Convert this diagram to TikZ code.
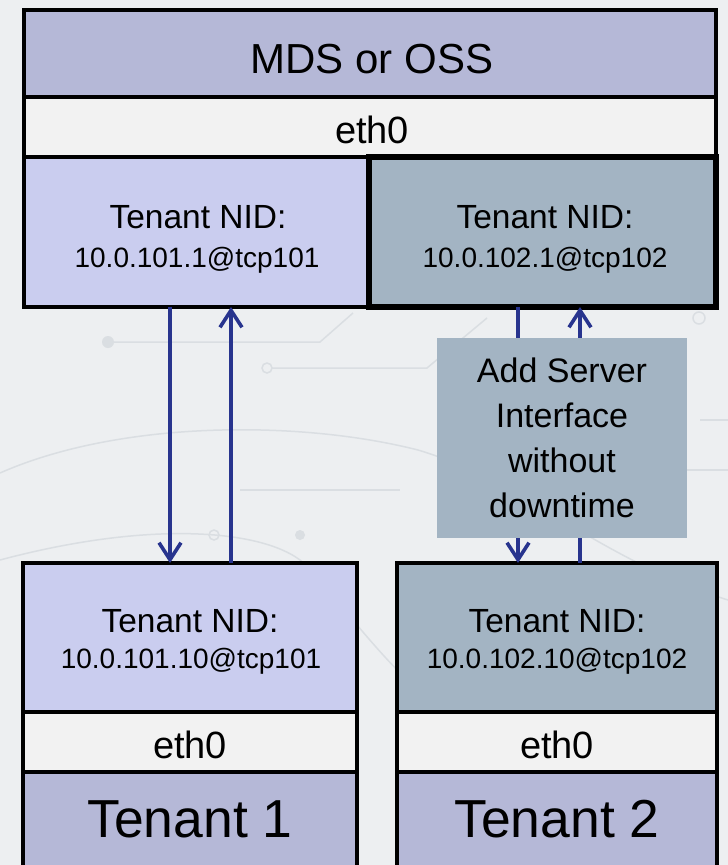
\documentclass[tikz,border=0pt]{standalone}
\usepackage{fontspec}
\setmainfont{Liberation Sans}
\usetikzlibrary{arrows.meta}

\definecolor{pagebg}{HTML}{EDEFF1}
\definecolor{trace}{HTML}{DADEE2}
\definecolor{hostfill}{HTML}{B5B8D7}
\definecolor{nicfill}{HTML}{F2F2F2}
\definecolor{nidone}{HTML}{CACDEF}
\definecolor{nidtwo}{HTML}{A3B4C3}
\definecolor{flowblue}{HTML}{28348E}

\newcommand{\fs}[1]{\fontsize{#1pt}{#1pt}\selectfont}
\newcommand{\fsl}[2]{\fontsize{#1pt}{#2pt}\selectfont}

\begin{document}
\begin{tikzpicture}[x=1pt,y=-1pt,
  cell/.style={draw=black, line width=3.5pt, inner sep=0pt, outer sep=0pt},
  txt/.style={inner sep=0pt, anchor=base},
  flow/.style={draw=flowblue, line width=3.6pt,
    -{Straight Barb[length=17pt,width=22pt]}},
  note/.style={fill=nidtwo, inner sep=0pt, align=center,
    minimum width=250pt, minimum height=200pt,
    font=\fsl{34}{45}}
]
% page and its faint circuit-board backdrop
\useasboundingbox (0,0) rectangle (728,865);
\clip (0,0) rectangle (728,865);
\fill[pagebg] (0,0) rectangle (728,865);
\begin{scope}[draw=trace, line width=1.5pt]
  \draw (108,342) -- (320,342) -- (353,313);
  \fill[trace] (108,342) circle (6pt);
  \draw (272,368) -- (427,368) -- (487,318);
  \draw (267,368) circle (5pt);
  \draw (699,318) circle (6pt);
  \draw (0,473) .. controls (120,420) and (300,420) .. (418,450)
        .. controls (520,480) and (600,560) .. (728,600);
  \draw (0,560) .. controls (150,520) and (260,530) .. (300,560)
        .. controls (340,600) and (380,660) .. (430,700);
  \draw (240,490) -- (400,490);
  \draw (214,535) circle (5pt);
  \fill[trace] (300,535) circle (5pt);
  \draw (580,470) -- (728,470);
  \draw (700,420) -- (728,420);
\end{scope}

% file server: host, interface and its two tenant NIDs
\node[cell, fill=hostfill, minimum width=692pt, minimum height=87pt] (mds) at (370,53.5) {};
\node[cell, fill=nicfill, minimum width=692pt, minimum height=60pt] (eth) at (370,127) {};
\node[cell, fill=nidone, minimum width=345pt, minimum height=150pt] (nidL) at (196.5,232) {};
\node[cell, fill=nidtwo, line width=6pt, minimum width=347pt, minimum height=150pt] (nidR) at (542.5,232) {};

\node[txt, font=\fs{42}] (mdslbl) at (372,73) {MDS or OSS};
\node[txt, font=\fs{38}] (ethlbl) at (372,143) {eth0};
\node[txt, font=\fs{33.5}] (nidLa) at (198,228) {Tenant NID:};
\node[txt, font=\fs{28}] (nidLb) at (197,267) {10.0.101.1@tcp101};
\node[txt, font=\fs{33.5}] (nidRa) at (545,228) {Tenant NID:};
\node[txt, font=\fs{28}] (nidRb) at (545,267) {10.0.102.1@tcp102};

% tenant clients
\node[cell, fill=nidone, minimum width=334pt, minimum height=149pt] (nidBL) at (190,637.5) {};
\node[cell, fill=nicfill, minimum width=334pt, minimum height=60pt] (ethBL) at (190,742) {};
\node[cell, fill=hostfill, minimum width=334pt, minimum height=110pt] (tenL) at (190,827) {};

\node[cell, fill=nidtwo, minimum width=320pt, minimum height=149pt] (nidBR) at (557,637.5) {};
\node[cell, fill=nicfill, minimum width=320pt, minimum height=60pt] (ethBR) at (557,742) {};
\node[cell, fill=hostfill, minimum width=320pt, minimum height=110pt] (tenR) at (557,827) {};

\node[txt, font=\fs{33.5}] (nidBLa) at (190,632) {Tenant NID:};
\node[txt, font=\fs{28}] (nidBLb) at (191,668) {10.0.101.10@tcp101};
\node[txt, font=\fs{38}] (ethBLl) at (190,758) {eth0};
\node[txt, font=\fs{53.5}] (tenLl) at (190,837) {Tenant 1};

\node[txt, font=\fs{33.5}] (nidBRa) at (557,632) {Tenant NID:};
\node[txt, font=\fs{28}] (nidBRb) at (557,668) {10.0.102.10@tcp102};
\node[txt, font=\fs{38}] (ethBRl) at (557,758) {eth0};
\node[txt, font=\fs{53.5}] (tenRl) at (557,837) {Tenant 2};

% traffic between server NIDs and tenant NIDs
\coordinate (xa) at (170,0);
\coordinate (xb) at (231,0);
\coordinate (xc) at (518,0);
\coordinate (xd) at (580,0);
\draw[flow] (nidL.south -| xa) -- (nidBL.north -| xa);
\draw[flow] (nidBL.north -| xb) -- (nidL.south -| xb);
\draw[flow] (nidR.south -| xc) -- (nidBR.north -| xc);
\draw[flow] (nidBR.north -| xd) -- (nidR.south -| xd);

\node[note] (addnote) at (562,438) {Add Server\\Interface\\without\\downtime};
\end{tikzpicture}
\end{document}
